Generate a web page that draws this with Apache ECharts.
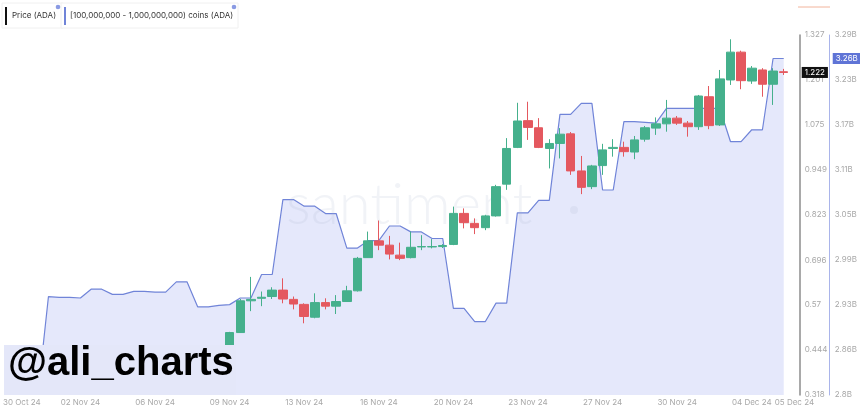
<!DOCTYPE html>
<html><head><meta charset="utf-8">
<script src="https://cdn.jsdelivr.net/npm/echarts@6/dist/echarts.min.js"></script>
<style>html,body{margin:0;padding:0;background:#fff}#c{width:860px;height:409px}</style>
</head><body><div id="c"></div>
<script>
const categories = [
'30 Oct 00','30 Oct 12','31 Oct 00','31 Oct 12',
'01 Nov 00','01 Nov 12','02 Nov 00','02 Nov 12','03 Nov 00','03 Nov 12','04 Nov 00','04 Nov 12','05 Nov 00','05 Nov 12',
'06 Nov 00','06 Nov 12','07 Nov 00','07 Nov 12','08 Nov 00','08 Nov 12','09 Nov 00','09 Nov 12','10 Nov 00','10 Nov 12',
'11 Nov 00','11 Nov 12','12 Nov 00','12 Nov 12','13 Nov 00','13 Nov 12','14 Nov 00','14 Nov 12','15 Nov 00','15 Nov 12',
'16 Nov 00','16 Nov 12','17 Nov 00','17 Nov 12','18 Nov 00','18 Nov 12','19 Nov 00','19 Nov 12','20 Nov 00','20 Nov 12',
'21 Nov 00','21 Nov 12','22 Nov 00','22 Nov 12','23 Nov 00','23 Nov 12','24 Nov 00','24 Nov 12','25 Nov 00','25 Nov 12',
'26 Nov 00','26 Nov 12','27 Nov 00','27 Nov 12','28 Nov 00','28 Nov 12','29 Nov 00','29 Nov 12','30 Nov 00','30 Nov 12',
'01 Dec 00','01 Dec 12','02 Dec 00','02 Dec 12','03 Dec 00','03 Dec 12','04 Dec 00','04 Dec 12','05 Dec 00','05 Dec 12','06 Dec 00'];

const xTickAt   = ['30 Oct 00','02 Nov 12','06 Nov 00','09 Nov 12','13 Nov 00','16 Nov 12','20 Nov 00','23 Nov 12','27 Nov 00','30 Nov 12','04 Dec 00','06 Dec 00'];
const xTickText = ['30 Oct 24','02 Nov 24','06 Nov 24','09 Nov 24','13 Nov 24','16 Nov 24','20 Nov 24','23 Nov 24','27 Nov 24','30 Nov 24','04 Dec 24','05 Dec 24'];

const priceTicks = [0.318,0.444,0.57,0.696,0.823,0.949,1.075,1.201,1.327];
const coinMin = 2.8, coinMax = 3.29;
const coinTickText = ['2.8B','2.86B','2.93B','2.99B','3.05B','3.11B','3.17B','3.23B','3.29B'];

// Price (ADA), 12h candles
const priceStart = '09 Nov 12';
const opens  = [0.453,0.493,0.582,0.589,0.594,0.612,0.586,0.572,0.536,0.577,0.567,0.580,0.610,0.703,0.750,0.738,0.710,0.703,0.733,0.733,0.734,0.740,0.827,0.799,0.787,0.820,0.909,1.012,1.087,1.067,1.009,1.023,1.050,0.946,0.902,0.961,1.009,1.012,0.999,1.035,1.066,1.078,1.094,1.080,1.070,1.154,1.075,1.201,1.279,1.198,1.229,1.189,1.224];
const closes = [0.493,0.582,0.586,0.592,0.612,0.587,0.573,0.538,0.577,0.567,0.580,0.610,0.701,0.750,0.738,0.713,0.701,0.732,0.734,0.734,0.737,0.827,0.801,0.787,0.820,0.902,1.009,1.086,1.068,1.012,1.023,1.049,0.946,0.900,0.960,1.005,1.012,1.000,1.033,1.067,1.078,1.094,1.080,1.070,1.156,1.073,1.204,1.279,1.199,1.234,1.189,1.226,1.222];
const lows   = [0.439,0.492,0.553,0.567,0.587,0.575,0.558,0.519,0.533,0.558,0.545,0.579,0.608,0.702,0.724,0.698,0.696,0.701,0.724,0.729,0.730,0.738,0.785,0.769,0.780,0.818,0.893,1.010,1.033,1.010,0.953,0.981,0.935,0.881,0.895,0.935,0.986,0.986,0.979,1.028,1.047,1.056,1.075,1.042,1.061,1.063,1.072,1.187,1.175,1.190,1.154,1.131,1.215];
const highs  = [0.495,0.587,0.649,0.608,0.620,0.645,0.594,0.575,0.603,0.589,0.598,0.624,0.705,0.776,0.807,0.764,0.745,0.776,0.766,0.755,0.741,0.846,0.841,0.813,0.823,0.907,1.038,1.137,1.140,1.094,1.035,1.066,1.055,0.988,0.963,1.022,1.035,1.028,1.044,1.072,1.096,1.145,1.100,1.086,1.159,1.184,1.229,1.315,1.283,1.240,1.234,1.234,1.232];

// [100,000,000 - 1,000,000,000) coins (ADA), in billions
const coinStart = '31 Oct 12';
const coins = [2.800,
 2.934,2.933,2.933,2.932,
 2.944,2.944,2.937,2.937,2.941,2.941,2.940,2.940,2.954,2.954,2.920,2.920,2.922,2.923,
 2.932,2.932,2.964,2.964,3.066,3.066,3.057,3.057,3.047,3.047,3.000,3.000,3.010,3.010,3.030,3.030,3.022,3.022,3.013,3.013,
 2.918,2.918,2.900,2.900,2.925,2.925,3.048,3.048,3.065,3.065,3.182,3.182,3.197,3.197,3.079,3.079,3.172,3.172,3.171,3.170,
 3.190,3.190,3.190,3.190,3.190,3.190,
 3.145,3.145,3.161,3.161,3.258,3.258];

const pIdx = categories.indexOf(priceStart);
const cIdx = categories.indexOf(coinStart);
const candleData = categories.map((c, i) => {
  const j = i - pIdx;
  return (j >= 0 && j < opens.length) ? [opens[j], closes[j], lows[j], highs[j]] : '-';
});
const coinData = categories.map((c, i) => {
  const j = i - cIdx;
  return (j >= 0 && j < coins.length) ? coins[j] : '-';
});
const coinTickValues = coinTickText.map((t, i) => coinMin + i * (coinMax - coinMin) / (coinTickText.length - 1));

const UP = '#45b08c', DOWN = '#e4585f';
const LINE = '#7084d8', FILL = '#e5e8fb';
const LBL = '#a8a8a8';
const FONT = 'Inter, "Noto Sans", sans-serif';

const chart = echarts.init(document.getElementById('c'), null, {renderer: 'canvas'});
chart.setOption({
  animation: false,
  backgroundColor: '#fff',
  grid: {left: 0, right: 57, top: 35, bottom: 14, containLabel: false},
  xAxis: {
    type: 'category', data: categories, boundaryGap: true,
    axisLine: {show: false}, axisTick: {show: false}, splitLine: {show: false},
    axisLabel: {
      interval: 0, margin: 4, color: LBL, fontSize: 8, fontFamily: FONT,
      formatter: (v) => {
        const j = xTickAt.indexOf(v);
        if (j < 0) return '';
        return j === 0 ? '{first|' + xTickText[j] + '}' : xTickText[j];
      },
      rich: {first: {padding: [0, 0, 0, 32], color: LBL, fontSize: 8, fontFamily: FONT}}
    }
  },
  yAxis: [
    {
      type: 'value', position: 'right', min: priceTicks[0], max: priceTicks[priceTicks.length - 1],
      axisLine: {show: true, lineStyle: {color: '#8c8c8c', width: 1.5}},
      axisTick: {show: false}, splitLine: {show: false},
      axisLabel: {customValues: priceTicks, formatter: (v) => String(v), color: LBL, fontSize: 8, fontFamily: FONT, margin: 5}
    },
    {
      type: 'value', position: 'right', offset: 30, min: coinMin, max: coinMax,
      axisLine: {show: true, lineStyle: {color: '#a9b4ea', width: 1}},
      axisTick: {show: false}, splitLine: {show: false},
      axisLabel: {
        customValues: coinTickValues,
        formatter: (v) => {
          let best = 0;
          coinTickValues.forEach((t, i) => { if (Math.abs(t - v) < Math.abs(coinTickValues[best] - v)) best = i; });
          return coinTickText[best];
        },
        color: LBL, fontSize: 8, fontFamily: FONT, margin: 5
      }
    }
  ],
  series: [
    {
      name: '[100,000,000 - 1,000,000,000) coins (ADA)', type: 'line', yAxisIndex: 1, z: 1,
      data: coinData, showSymbol: false, symbol: 'none',
      lineStyle: {color: LINE, width: 1.2},
      areaStyle: {color: FILL, opacity: 1, origin: 'start'},
      emphasis: {disabled: true},
      markLine: {
        silent: true, symbol: 'none', animation: false, precision: 3,
        lineStyle: {color: 'rgba(0,0,0,0)', width: 1, type: 'solid'},
        label: {show: true, position: 'end', distance: 33, formatter: (p) => Number(p.value).toFixed(2) + 'B',
          backgroundColor: '#5f74d6', color: '#fff', fontSize: 8, fontFamily: FONT, padding: [2, 3, 1, 3]},
        data: [{yAxis: coins[coins.length - 1]}]
      }
    },
    {
      name: 'Price (ADA)', type: 'candlestick', yAxisIndex: 0, z: 3,
      data: candleData, barWidth: 9,
      itemStyle: {color: UP, color0: DOWN, borderColor: UP, borderColor0: DOWN, borderWidth: 1},
      emphasis: {disabled: true},
      markLine: {
        silent: true, symbol: 'none', animation: false, precision: 3,
        lineStyle: {color: 'rgba(0,0,0,0)', width: 1, type: 'solid'},
        label: {show: true, position: 'end', distance: 2, formatter: (p) => Number(p.value).toFixed(3),
          backgroundColor: '#111', color: '#fff', fontSize: 8, fontFamily: FONT, padding: [2, 3, 1, 3]},
        data: [{yAxis: closes[closes.length - 1]}]
      }
    }
  ],
  graphic: [
    {type: 'text', z: 2, silent: true, style: {text: 'santiment', x: 286, y: 205, verticalAlign: 'middle',
      font: '300 58px Lato, "Open Sans", sans-serif', fill: 'rgba(170,178,205,0.16)'}},
    {type: 'circle', z: 2, silent: true, shape: {cx: 574, cy: 210, r: 4}, style: {fill: 'rgba(170,178,205,0.16)'}},
    {type: 'rect', z: 50, silent: true, shape: {x: 2, y: 3, width: 61, height: 25}, style: {fill: '#fff', stroke: '#f0f0f0', lineWidth: 1}},
    {type: 'rect', z: 51, silent: true, shape: {x: 5, y: 7, width: 2, height: 18}, style: {fill: '#111'}},
    {type: 'text', z: 51, silent: true, style: {text: 'Price (ADA)', x: 12, y: 16, verticalAlign: 'middle', font: '8px ' + FONT, fill: '#333'}},
    {type: 'circle', z: 51, silent: true, shape: {cx: 58, cy: 7, r: 2.3}, style: {fill: '#8a9ae3'}},
    {type: 'rect', z: 50, silent: true, shape: {x: 61, y: 3, width: 177, height: 25}, style: {fill: '#fff', stroke: '#f0f0f0', lineWidth: 1}},
    {type: 'rect', z: 51, silent: true, shape: {x: 64, y: 7, width: 2, height: 18}, style: {fill: LINE}},
    {type: 'text', z: 51, silent: true, style: {text: '[100,000,000 - 1,000,000,000) coins (ADA)', x: 70, y: 16, verticalAlign: 'middle', font: '8px ' + FONT, fill: '#333'}},
    {type: 'circle', z: 51, silent: true, shape: {cx: 234, cy: 7, r: 2.3}, style: {fill: '#8a9ae3'}},
    {type: 'line', z: 51, silent: true, shape: {x1: 798, y1: 7, x2: 830, y2: 7}, style: {stroke: '#f2b49c', lineWidth: 1}},
    {type: 'rect', z: 60, silent: true, shape: {x: 4, y: 345, width: 232, height: 50}, style: {fill: '#e4e7f9'}},
    {type: 'text', z: 61, silent: true, style: {text: '@ali_charts', x: 8, y: 364, verticalAlign: 'middle',
      font: 'bold 40px "Liberation Sans", Arial, sans-serif', fill: '#000'}}
  ]
});
</script></body></html>
